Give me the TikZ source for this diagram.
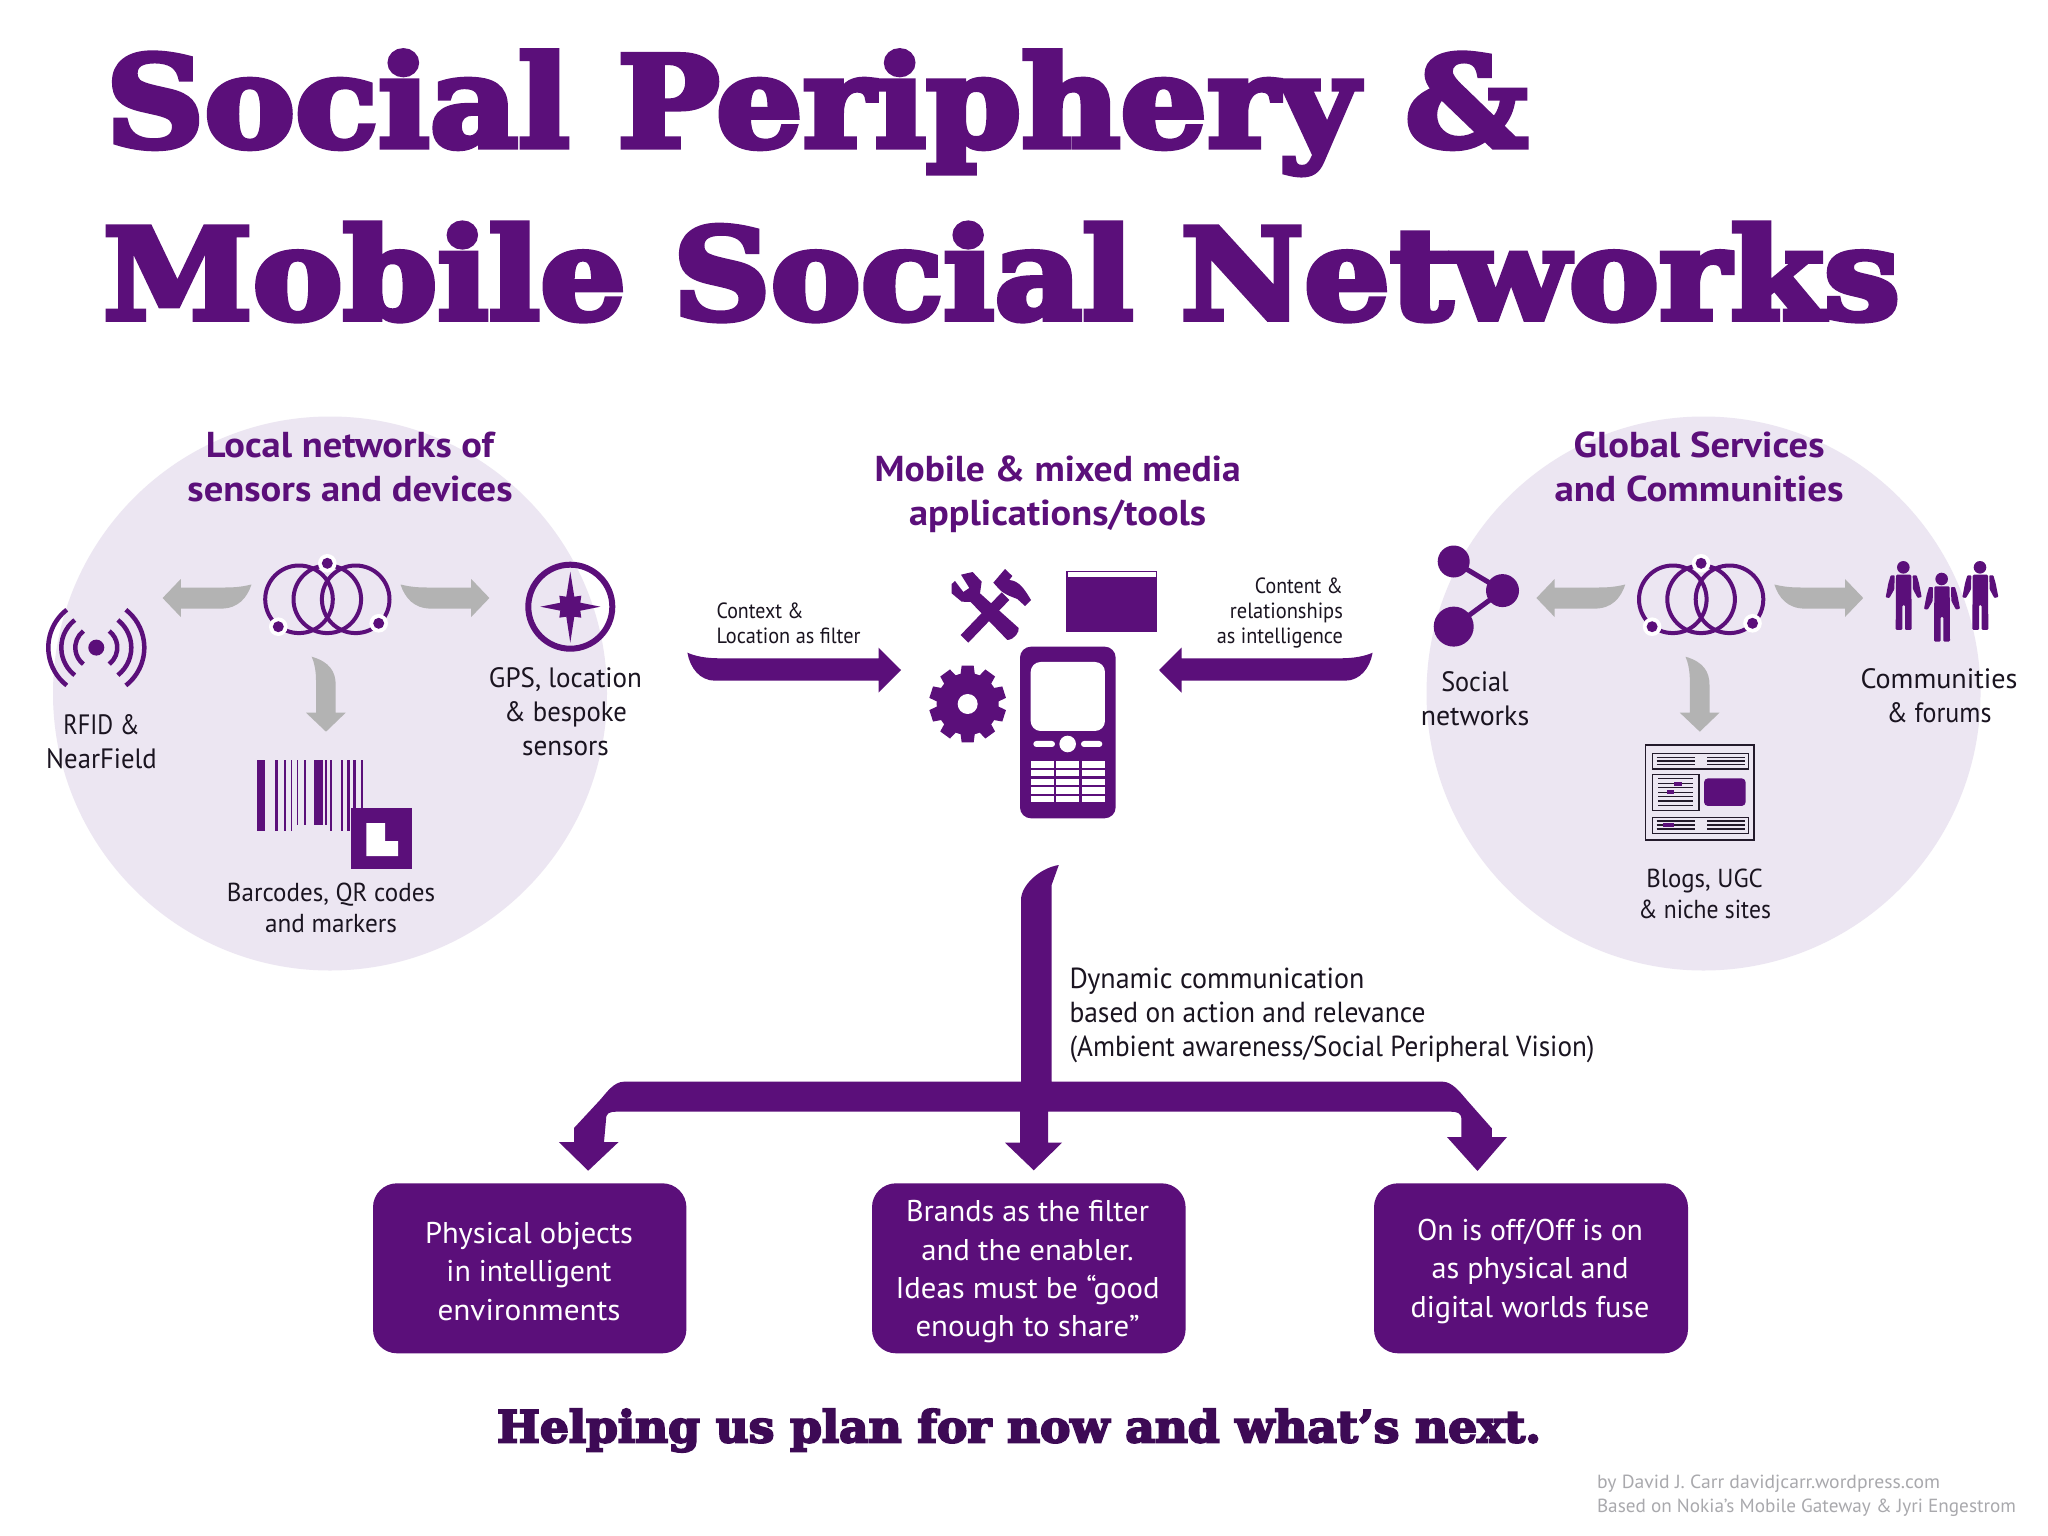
\documentclass[tikz,border=0pt]{standalone}
\usepackage{graphicx}
\usepackage{fontspec}
\setmainfont{PT Sans}
\newfontfamily\titlefont[FakeBold=4.5]{DejaVu Serif Bold}
\definecolor{pur}{HTML}{5B0F7A}
\definecolor{tagc}{HTML}{3D0A55}
\definecolor{disc}{HTML}{ECE6F2}
\definecolor{arrowgray}{HTML}{B3B3B3}
\definecolor{credit}{HTML}{A9A9AD}
\definecolor{ink}{HTML}{1A1420}
\definecolor{iconink}{HTML}{231A2B}
% a line of text set to a measured width
\newcommand{\fw}[2]{\resizebox{#1pt}{\height}{#2}}
\newcommand{\bigsize}{\fontsize{126}{126}\selectfont}
\tikzset{
  every node/.style={inner sep=0pt,outer sep=0pt},
  titletext/.style={anchor=base west,text=pur,font=\titlefont\bigsize},
  heading/.style={anchor=base,align=center,text=pur,font=\bfseries\fontsize{36}{44}\selectfont},
  labeltext/.style={anchor=base,align=center,text=ink,font=\fontsize{28}{34}\selectfont},
  smalltext/.style={anchor=base,text=ink,font=\fontsize{22}{25}\selectfont},
  boxstyle/.style={fill=pur,rounded corners=24pt},
  boxtext/.style={anchor=base,align=center,text=white,font=\fontsize{30}{38.3}\selectfont},
  ring/.style={draw=pur,line width=4pt},
  rfid/.style={draw=pur,line width=4.5pt},
  grayarrow/.style={fill=arrowgray},
  pf/.style={fill=pur},
  wf/.style={fill=white},
  blogline/.style={draw=iconink,line width=1.1pt},
  blogbox/.style={draw=iconink,line width=1.4pt},
}
\newcommand{\hubicon}{%
  \draw[ring] (299,599.3) circle[radius=33.8pt];
  \draw[ring] (327.3,599.3) circle[radius=33.8pt];
  \draw[ring] (355.7,599.3) circle[radius=33.8pt];
  \foreach \px/\py in {327.3/563.3,278.3/626.7,378.7/623.3}{
    \fill[wf] (\px,\py) circle[radius=9.3pt];
    \fill[pf] (\px,\py) circle[radius=5.5pt];
  }
  \fill[grayarrow] (162.6,598) -- (180.8,579) -- (180.8,587.5) -- (225,587.5)
    .. controls (238,587.5) and (245,586) .. (251.5,584.5)
    .. controls (247,598) and (238,608.6) .. (221,608.6)
    -- (180.8,608.6) -- (180.8,617) -- cycle;
  \begin{scope}[shift={(652,0)},xscale=-1]
    \fill[grayarrow] (162.6,598) -- (180.8,579) -- (180.8,587.5) -- (225,587.5)
      .. controls (238,587.5) and (245,586) .. (251.5,584.5)
      .. controls (247,598) and (238,608.6) .. (221,608.6)
      -- (180.8,608.6) -- (180.8,617) -- cycle;
  \end{scope}
  \fill[grayarrow] (311.7,656.7) .. controls (330,662) and (335.7,672) .. (335.7,685)
    -- (335.7,712.7) -- (345.7,712.7) -- (326,731.7) -- (306,712.7) -- (316,712.7)
    -- (316,680) .. controls (316,670) and (314,662) .. (311.7,656.7) -- cycle;
}
\newcommand{\personicon}{%
  \fill[pf] (100,52) circle[radius=6.3pt];
  \fill[pf,rounded corners=1.2pt] (78,74) -- (124,74) -- (125,240) -- (105,240) -- (105,165)
    -- (97,165) -- (97,240) -- (77,240) -- cycle;
  \fill[pf,rounded corners=0.8pt] (62,76) -- (74,76) -- (73,118) -- (58,144) -- (47,142) -- (55,100) -- cycle;
  \fill[pf,rounded corners=0.8pt] (128,76) -- (140,76) -- (147,100) -- (155,141) -- (143,144) -- (129,118) -- cycle;
}
\newcommand{\bigarrow}{%
  \fill[pf] (687.4,652.7) .. controls (695,656) and (705,658.3) .. (720,658.3)
    -- (878.5,658.3) -- (878.5,647.7) -- (901,670) -- (878.5,692.7) -- (878.5,680.7)
    -- (715,680.7) .. controls (700,680.7) and (690,668) .. (687.4,652.7) -- cycle;
}
\begin{document}
\begin{tikzpicture}[x=1pt,y=-1pt]
\useasboundingbox[fill=white] (0,0) rectangle (2048,1536);

% discs
\fill[disc] (330,693.5) circle[radius=277pt];
\fill[disc] (1703.5,693.5) circle[radius=277pt];

% title
\node[titletext] (title1) at (106,146.7) {\fw{1422}{Social Periphery \&}};
\node[titletext] (title2) at (103,319) {\fw{1797}{Mobile Social Networks}};

% headings
\node[heading] (headL) at (350,501.4) {\fw{288}{Local networks of}\\\fw{325}{sensors and devices}};
\node[heading] (headM) at (1057.6,525) {\fw{366}{Mobile \& mixed media}\\\fw{297}{applications/tools}};
\node[heading] (headR) at (1699,501.4) {\fw{251}{Global Services}\\\fw{289}{and Communities}};

% hubs
\hubicon
\begin{scope}[shift={(1373.8,0)}]
  \hubicon
\end{scope}

% RFID
\coordinate (rfidc) at (96.3,647.6);
\fill[pf] (rfidc) circle[radius=8pt];
\foreach \r in {21,35,48}{
  \draw[rfid] (rfidc) ++(-52:\r pt) arc[start angle=-52,end angle=52,radius=\r pt];
  \draw[rfid] (rfidc) ++(128:\r pt) arc[start angle=128,end angle=232,radius=\r pt];
}
\node[labeltext] (rfidlabel) at (101.5,768.5) {\fw{76}{RFID \&}\\\fw{110.5}{NearField}};

% compass
\coordinate (compc) at (570.3,606.7);
\draw[draw=pur,line width=6pt] (compc) circle[radius=42pt];
\begin{scope}[shift={(570.3,606.7)}]
  \fill[pf] (0,-35) -- (4,-10) -- (11,-11) -- (10,-4) -- (30,0) -- (10,4) -- (11,11) -- (4,10)
    -- (0,36) -- (-4,10) -- (-11,11) -- (-10,4) -- (-30,0) -- (-10,-4) -- (-11,-11) -- (-4,-10) -- cycle;
\end{scope}
\node[labeltext] (gpslabel) at (565.5,755.9) {\fw{153}{GPS, location}\\\fw{122.7}{\& bespoke}\\\fw{86.7}{sensors}};

% barcode
\foreach \xa/\xb/\yb in {257.2/265.4/830.5,274.5/277.5/830.5,284/285.8/830.5,290.5/291.9/830.5,
  297/297.8/825,303.6/306.1/825,314/323/825,325.2/327.4/825,329.6/331.7/830.5,
  341.3/343.4/830.5,346.9/349.5/830.5,353.4/355.6/825,360.8/362.5/825}{
  \fill[pf] (\xa,760.1) rectangle (\xb,\yb);
}
\fill[pf] (351.3,808.3) rectangle (412,869.2);
\fill[wf] (366.4,823) -- (385,823) -- (385,841) -- (398,841) -- (398,856) -- (366.4,856) -- cycle;
\node[labeltext,font=\fontsize{26}{31.4}\selectfont] (barlabel) at (331,932.7) {\fw{208}{Barcodes, QR codes}\\\fw{132}{and markers}};

% social network icon
\coordinate (sn1) at (1453.7,561.5);
\coordinate (sn2) at (1502.5,590.6);
\coordinate (sn3) at (1453.7,626.6);
\draw[draw=pur,line width=5pt] (sn1) -- (sn2) -- (sn3);
\fill[pf] (sn1) circle[radius=16pt];
\fill[pf] (sn2) circle[radius=16.5pt];
\fill[pf] (sn3) circle[radius=20pt];
\node[labeltext] (snlabel) at (1475,725.3) {\fw{67.5}{Social}\\\fw{108.5}{networks}};

% people
\begin{scope}[shift={(1870,550)},x=0.3333pt,y=-0.3333pt]
  \personicon
  \begin{scope}[shift={(115,35)}]\personicon\end{scope}
  \begin{scope}[shift={(230,0)}]\personicon\end{scope}
\end{scope}
\node[labeltext] (commlabel) at (1939,722.2) {\fw{157}{Communities}\\\fw{105}{\& forums}};

% blog page icon
\begin{scope}[shift={(1630,730)},x=0.3333pt,y=-0.3333pt]
  \draw[blogbox] (47,45) rectangle (372,330);
  \draw[blogbox] (67,70) rectangle (355,117);
  \draw[blogbox] (67,133) rectangle (207,242);
  \draw[blogbox] (67,263) rectangle (355,310);
  \foreach \ly in {82,93,104,273,285,297}{
    \draw[blogline] (80,\ly) -- (195,\ly);
    \draw[blogline] (232,\ly) -- (345,\ly);
  }
  \foreach \ly in {145,160,173,187,200,213,226}{
    \draw[blogline] (85,\ly) -- (190,\ly);
  }
  \fill[pf] (133,155) rectangle (155,167);
  \fill[pf] (110,181) rectangle (132,193);
  \fill[pf] (98,279) rectangle (133,291);
  \fill[pf,rounded corners=4pt] (222,145) rectangle (347,228);
\end{scope}
\node[labeltext,font=\fontsize{26}{30.7}\selectfont] (bloglabel) at (1704.6,918.6) {\fw{116.5}{Blogs, UGC}\\\fw{132.6}{\& niche sites}};

% side arrows
\bigarrow
\begin{scope}[shift={(2060,0)},xscale=-1]
  \bigarrow
\end{scope}
\node[smalltext,anchor=base west,align=left] (ctxlabel) at (716.6,643.3) {\fw{87}{Context \&}\\\fw{144}{Location as filter}};
\node[smalltext,anchor=base east,align=right] (contlabel) at (1342.9,643.3) {\fw{88}{Content \&}\\\fw{113}{relationships}\\\fw{126}{as intelligence}};

% tools
\begin{scope}[shift={(930,560)},x=0.3333pt,y=-0.3333pt]
  \fill[pf] (232,240) .. controls (255,238) and (268,215) .. (266,204) -- (150,100) -- (155,65)
    -- (128,36) -- (93,44) -- (118,84) -- (100,96) -- (75,63) -- (65,72) -- (65,100) -- (95,125) -- (122,126) -- cycle;
  \fill[pf] (92,225) -- (115,248) -- (238,120) -- (215,97) -- cycle;
  \fill[pf] (190,68) -- (225,27) -- (247,48) -- (238,60)
    .. controls (268,62) and (285,90) .. (303,120) -- (285,138) -- (262,117)
    .. controls (245,110) and (225,105) .. (208,88) -- cycle;
  % window
  \fill[pf] (407,32) rectangle (681,217);
  \fill[wf] (413,37) rectangle (677,50);
  % gear
  \begin{scope}[shift={(113,432)}]
    \fill[pf] (0,0) circle[radius=31pt];
    \foreach \a in {0,36,...,324}{
      \fill[pf,rotate=\a] (-18,-115) -- (18,-115) -- (22,-85) -- (-22,-85) -- cycle;
    }
    \fill[wf] (0,0) circle[radius=10pt];
  \end{scope}
  % phone
  \fill[pf,rounded corners=11pt] (270,260) rectangle (557,775);
  \fill[wf,rounded corners=10pt] (302,306) rectangle (525,513);
  \fill[wf] (413,552) circle[radius=8.3pt];
  \fill[wf,rounded corners=3pt] (310,543) rectangle (375,561);
  \fill[wf,rounded corners=3pt] (453,543) rectangle (517,561);
  \foreach \ya/\yb in {604/623,630/649,656/675,682/701,708/725}{
    \foreach \xa/\xb in {303/371,379/447,456/524}{
      \fill[wf] (\xa,\ya) rectangle (\xb,\yb);
    }
  }
\end{scope}

% tree connector
\fill[pf] (1058.8,865) -- (1051.6,885) -- (1051.6,1081.7) -- (1442.7,1081.7)
  .. controls (1452,1081.7) and (1460,1092) .. (1466.8,1100)
  -- (1491.8,1128.3) -- (1491.8,1137) -- (1507,1137) -- (1477.5,1171) -- (1447,1137) -- (1461.4,1137)
  -- (1461.4,1120) .. controls (1461.4,1113) and (1458,1111.7) .. (1450,1111.7)
  -- (1048,1111.7) -- (1048,1142.7) -- (1062,1142.7) -- (1033.8,1170.3) -- (1005,1142.7) -- (1020,1142.7)
  -- (1020,1111.7) -- (617,1111.7) .. controls (609,1111.7) and (606,1113) .. (606,1120)
  -- (604,1142) -- (618.6,1142) -- (588.2,1170.7) -- (558.8,1142) -- (574,1142) -- (574,1128)
  -- (600,1100) .. controls (607,1092) and (614,1081.7) .. (624,1081.7)
  -- (1021,1081.7) -- (1021,900) .. controls (1021,885) and (1040,868) .. (1058.8,865) -- cycle;
\node[labeltext,anchor=base west,align=left,font=\fontsize{29}{34.2}\selectfont] (dyn) at (1069.5,1056.7)
  {\fw{295}{Dynamic communication}\\\fw{356}{based on action and relevance}\\\fw{525}{(Ambient awareness/Social Peripheral Vision)}};

% boxes
\fill[boxstyle] (373,1183.3) rectangle (686.4,1353.3);
\fill[boxstyle] (872,1183.3) rectangle (1185.6,1353.3);
\fill[boxstyle] (1374,1183.3) rectangle (1688,1353.3);
\node[boxtext] (b1) at (529,1320) {\fw{208}{Physical objects}\\\fw{165}{in intelligent}\\\fw{183}{environments}};
\node[boxtext] (b2) at (1027.5,1336.7) {\fw{243}{Brands as the filter}\\\fw{212.5}{and the enabler.}\\\fw{264}{Ideas must be “good}\\\fw{224}{enough to share”}};
\node[boxtext] (b3) at (1530,1317) {\fw{226}{On is off/Off is on}\\\fw{197}{as physical and}\\\fw{239}{digital worlds fuse}};

% tagline and credits
\node[anchor=base west,text=tagc,font=\titlefont\fontsize{44}{44}\selectfont] (tag) at (497,1442.3) {\fw{1044}{Helping us plan for now and what’s next.}};
\node[anchor=base west,align=left,text=credit,font=\fontsize{19}{24}\selectfont] (cred) at (1597,1512.3)
  {\fw{343}{by David J. Carr davidjcarr.wordpress.com}\\\fw{419}{Based on Nokia’s Mobile Gateway \& Jyri Engestrom}};
\end{tikzpicture}
\end{document}
